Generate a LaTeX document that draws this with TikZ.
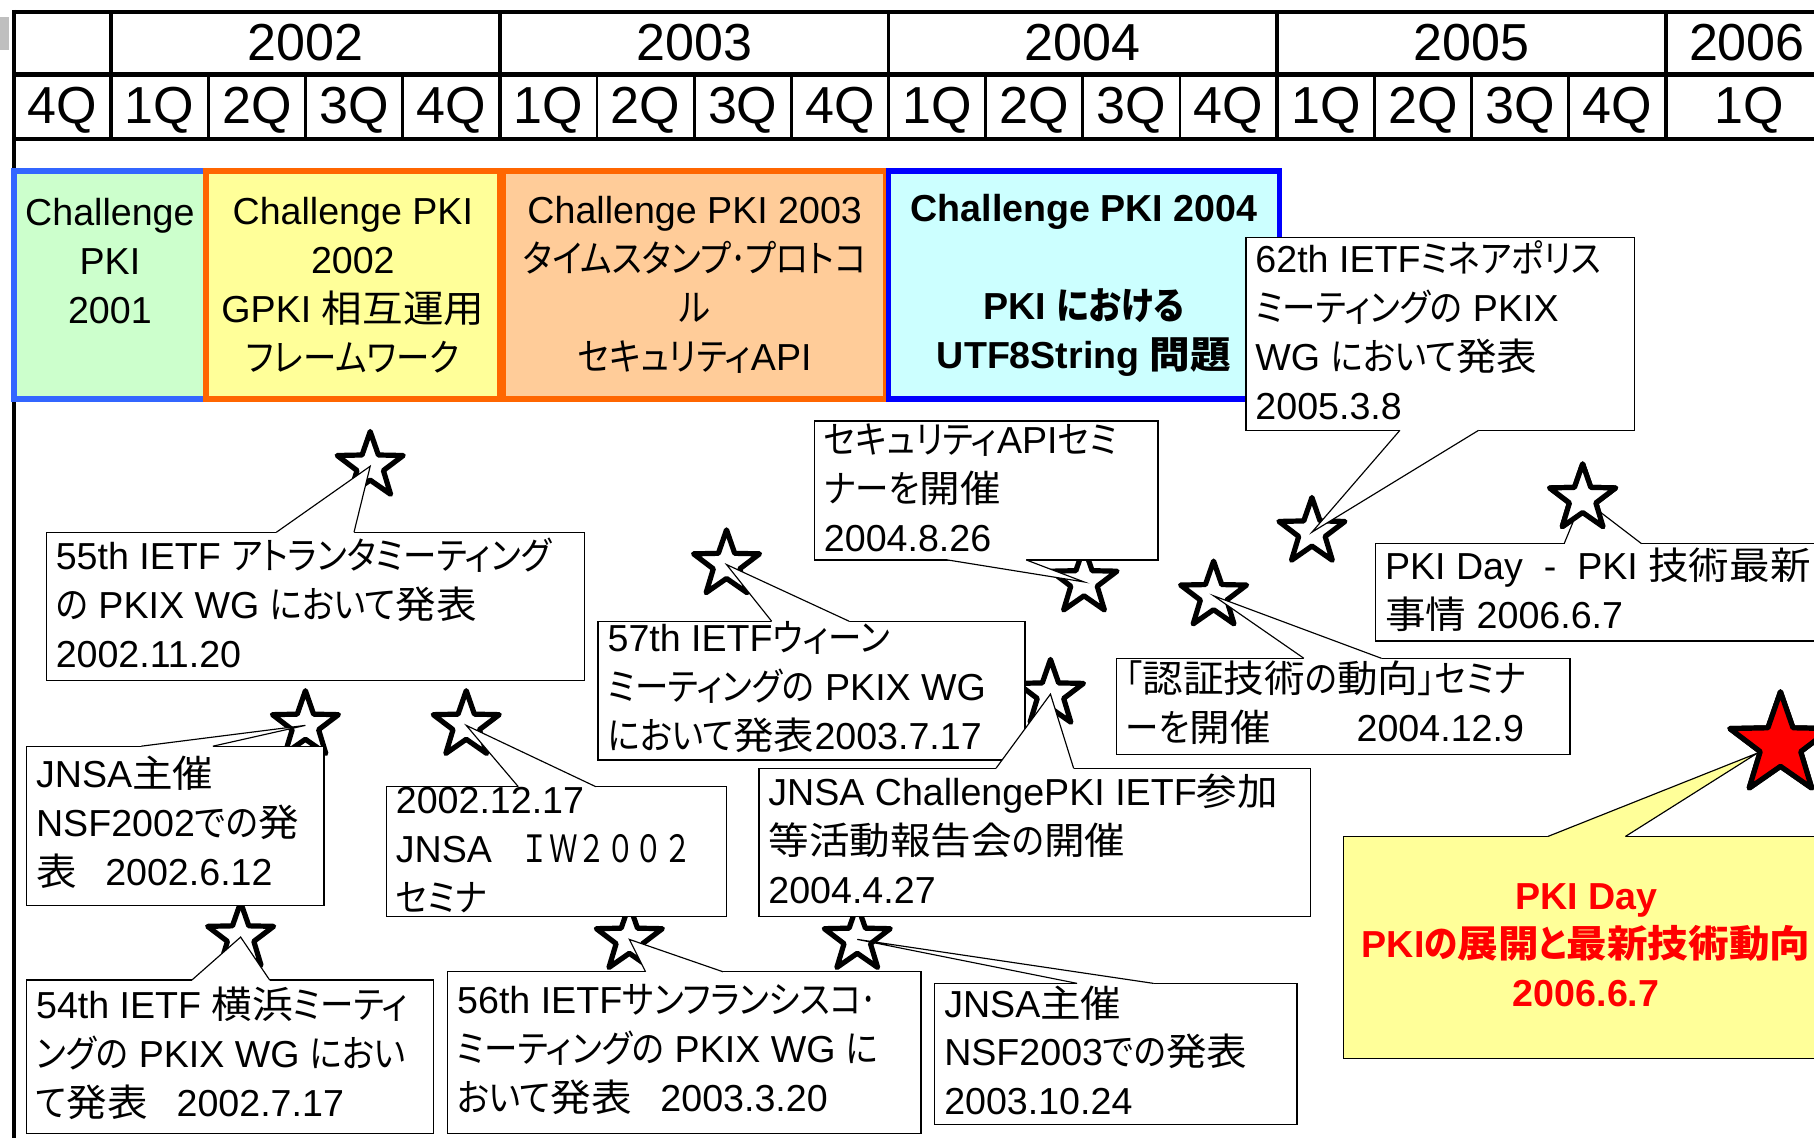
\documentclass[tikz,border=0pt]{standalone}
\usepackage{fontspec}
\setmainfont{Liberation Sans}
\newfontfamily\kanaf{Noto Sans CJK JP}[RawFeature=+palt, FakeStretch=0.89]
\newfontfamily\hanf{Noto Sans CJK JP}[RawFeature=+palt, FakeStretch=1.08]
\newfontfamily\fwf{Noto Sans CJK JP}[FakeStretch=0.76]
\usetikzlibrary{shapes.geometric,calc}
% automatic switch between Latin, kana, kanji and full-width fonts
\XeTeXinterchartokenstate=1
\newXeTeXintercharclass\KANcls
\newXeTeXintercharclass\HANcls
\newXeTeXintercharclass\FWcls
\newcount\cjkcnt
\def\setcjkrange#1#2#3{\cjkcnt=#1\relax
  \loop\XeTeXcharclass\cjkcnt=#3\relax
  \advance\cjkcnt by 1\relax\ifnum\cjkcnt<#2\relax\repeat}
\setcjkrange{"3001}{"3100}{\KANcls}
\setcjkrange{"3000}{"3001}{\FWcls}
\setcjkrange{"FF00}{"FFF0}{\FWcls}
\setcjkrange{"4E00}{"A000}{\HANcls}
\def\settrans#1#2{% #1 target class, #2 font command
  \XeTeXinterchartoks 0 #1 = {#2}%
  \XeTeXinterchartoks 4095 #1 = {#2}%
  \ifnum#1=\KANcls\else\XeTeXinterchartoks \KANcls #1 = {#2}\fi
  \ifnum#1=\HANcls\else\XeTeXinterchartoks \HANcls #1 = {#2}\fi
  \ifnum#1=\FWcls\else\XeTeXinterchartoks \FWcls #1 = {#2}\fi
  \XeTeXinterchartoks #1 0 = {\rmfamily}%
  \XeTeXinterchartoks #1 4095 = {\rmfamily}}
\settrans\KANcls\kanaf
\settrans\HANcls\hanf
\settrans\FWcls\fwf

\definecolor{cAb}{HTML}{3366FF}
\definecolor{cAf}{HTML}{CCFFCC}
\definecolor{corg}{HTML}{FF6600}
\definecolor{cBf}{HTML}{FFFF99}
\definecolor{cCf}{HTML}{FFCC99}
\definecolor{cDb}{HTML}{0000FF}
\definecolor{cDf}{HTML}{CCFFFF}
\definecolor{pkiy}{HTML}{FFFF99}
\definecolor{pkired}{HTML}{FF0000}

\tikzset{
  hdr/.style={font=\fontsize{45}{50}\selectfont, anchor=base, inner sep=0},
  chbox/.style={line width=5, anchor=north west, inner sep=0, outer sep=0,
    align=center, font=\fontsize{32.5}{42.3}\selectfont},
  cbox/.style={draw=black, line width=1.1, fill=white, inner sep=0, outer sep=0,
    anchor=north west},
  ctext/.style={font=\fontsize{32.5}{42.3}\selectfont, align=left, inner sep=0,
    anchor=west},
  evstar/.style={star, star points=5, star point ratio=2.5, minimum size=60,
    inner sep=0, draw=black, line width=4.5, fill=white, line join=round},
  ptrline/.style={line width=1, draw=black},
}
\newcommand\ptrN[5][white]{%
  \fill[#1] ([xshift=#3,yshift=-1.6]#2.north west) -- ([xshift=#3]#2.north west)
    -- (#5) -- ([xshift=#4]#2.north west) -- ([xshift=#4,yshift=-1.6]#2.north west) -- cycle;
  \draw[ptrline] ([xshift=#3]#2.north west) -- (#5) -- ([xshift=#4]#2.north west);}
\newcommand\ptrS[5][white]{%
  \fill[#1] ([xshift=#3,yshift=1.6]#2.south west) -- ([xshift=#3]#2.south west)
    -- (#5) -- ([xshift=#4]#2.south west) -- ([xshift=#4,yshift=1.6]#2.south west) -- cycle;
  \draw[ptrline] ([xshift=#3]#2.south west) -- (#5) -- ([xshift=#4]#2.south west);}

\begin{document}
\begin{tikzpicture}[x=1pt,y=-1pt]
\useasboundingbox (0,0) rectangle (1568,984);
\clip (0,0) rectangle (1568,984);
\fill[white] (0,0) rectangle (1568,984);
\fill[black!25] (0,15) rectangle (8,43);

% ---------- header table ----------
\draw[line width=3.5] (12,10) -- (1570,10);
\draw[line width=4] (12,64.5) -- (1570,64.5);
\draw[line width=3.5] (12,120.5) -- (1570,120.5);
\draw[line width=3] (12,8.5) -- (12,984);
\foreach \x in {96,432,768,1104,1440} \draw[line width=3] (\x,10) -- (\x,120.5);
\foreach \x in {180,264,348,516,600,684,852,936,1020,1188,1272,1356}
  \draw[line width=2.5] (\x,64.5) -- (\x,120.5);
\node[hdr] (y2002) at (264,52) {2002};
\node[hdr] (y2003) at (600,52) {2003};
\node[hdr] (y2004) at (936,52) {2004};
\node[hdr] (y2005) at (1272,52) {2005};
\node[hdr] (y2006) at (1510,52) {2006};
\foreach \x/\q [count=\i] in {54/4,138/1,222/2,306/3,390/4,474/1,558/2,642/3,726/4,
  810/1,894/2,978/3,1062/4,1146/1,1230/2,1314/3,1398/4,1512/1}
  \node[hdr] (q\i) at (\x,107) {\q Q};

% ---------- Challenge PKI boxes ----------
\node[chbox, draw=cAb, fill=cAf, minimum width=166, minimum height=197] (ch2001) at (12,148)
  {Challenge\\PKI\\2001\\\mbox{}};
\node[chbox, draw=corg, fill=cBf, minimum width=254, minimum height=197] (ch2002) at (178,148)
  {Challenge PKI\\2002\\GPKI 相互運用\\フレームワーク};
\node[chbox, draw=corg, fill=cCf, minimum width=331, minimum height=197] (ch2003) at (435,148)
  {Challenge PKI 2003\\タイムスタンプ･プロトコ\\ル\\セキュリティAPI};
\node[chbox, draw=cDb, fill=cDf, minimum width=338, minimum height=197,
  font=\fontsize{32.5}{42.3}\selectfont\bfseries] (ch2004) at (768,148)
  {Challenge PKI 2004\\\mbox{}\\PKI における\\UTF8String 問題};

% ---------- stars ----------
\node[evstar] (s1) at (320,403) {};
\node[evstar] (s2) at (264,627) {};
\node[evstar] (s3) at (403,627) {};
\node[evstar] (s4) at (208,810) {};
\node[evstar] (s5) at (544,812) {};
\node[evstar] (s6) at (741,812) {};
\node[evstar] (s7) at (628,488) {};
\node[evstar] (s8) at (937,503) {};
\node[evstar] (s9) at (908,600) {};
\node[evstar] (s10) at (1049,515) {};
\node[evstar] (s11) at (1134,460) {};

% ---------- callouts ----------
\node[cbox, minimum width=465, minimum height=128] (c1) at (40,460) {};
\ptrN{c1}{199}{266}{s1.center}
\node[ctext] (c1t) at ([xshift=8,yshift=3]c1.west) {55th IETF アトランタミーティング\\の PKIX WG において発表\\2002.11.20};

\node[cbox, minimum width=257, minimum height=138] (c2) at (23,645) {};
\ptrN{c2}{99}{161}{s2.center}
\node[ctext] (c2t) at ([xshift=8,yshift=3]c2.west) {JNSA主催\\NSF2002での発\\表　2002.6.12};

\node[cbox, minimum width=294, minimum height=112] (c3) at (334,680) {};
\ptrN{c3}{114}{181}{s3.center}
\node[ctext] (c3t) at ([xshift=8,yshift=1]c3.west) {2002.12.17\\JNSA　ＩＷ２００２\\セミナ};

\node[cbox, minimum width=352, minimum height=133] (c4) at (23,847) {};
\ptrN{c4}{143}{210}{s4.center}
\node[ctext] (c4t) at ([xshift=8,yshift=3]c4.west) {54th IETF 横浜ミーティ\\ングの PKIX WG におい\\て発表　2002.7.17};

\node[cbox, minimum width=409, minimum height=140] (c5) at (387,840) {};
\ptrN{c5}{171}{238}{s5.center}
\node[ctext] (c5t) at ([xshift=8,yshift=3]c5.west) {56th IETFサンフランシスコ･\\ミーティングの PKIX WG に\\おいて発表　2003.3.20};

\node[cbox, minimum width=313, minimum height=122] (c6) at (808,850) {};
\ptrN{c6}{123}{189}{s6.center}
\node[ctext] (c6t) at ([xshift=8,yshift=3]c6.west) {JNSA主催\\NSF2003での発表\\2003.10.24};

\node[cbox, minimum width=369, minimum height=120] (c7) at (517,537) {};
\ptrN{c7}{150}{217}{s7.center}
\node[ctext] (c7t) at ([xshift=8,yshift=3]c7.west) {57th IETFウィーン\\ミーティングの PKIX WG\\において発表2003.7.17};

\node[cbox, minimum width=297, minimum height=120] (c8) at (704,364) {};
\ptrS{c8}{115}{183}{s8.center}
\node[ctext] (c8t) at ([xshift=8,yshift=2]c8.west) {セキュリティAPIセミ\\ナーを開催\\2004.8.26};

\node[cbox, minimum width=477, minimum height=128] (c9) at (656,664) {};
\ptrN{c9}{205}{272}{s9.center}
\node[ctext] (c9t) at ([xshift=8,yshift=3]c9.west) {JNSA ChallengePKI IETF参加\\等活動報告会の開催\\2004.4.27};

\node[cbox, minimum width=392, minimum height=83] (c10) at (965,569) {};
\ptrN{c10}{162}{229}{s10.center}
\node[ctext] (c10t) at ([xshift=8,yshift=3]c10.west) {「認証技術の動向」セミナ\\ーを開催　　　2004.12.9};

\node[cbox, minimum width=336, minimum height=167] (c11) at (1077,205) {};
\ptrS{c11}{133}{201}{s11.center}
\node[ctext] (c11t) at ([xshift=8,yshift=3]c11.west) {62th IETFミネアポリス\\ミーティングの PKIX\\WG において発表\\2005.3.8};

\node[cbox, minimum width=400, minimum height=84] (c12) at (1189,470) {};
\node[evstar] (s12) at (1368,431) {};
\ptrN{c12}{163}{230}{s12.center}
\node[ctext] (c12t) at ([xshift=8,yshift=2]c12.west) {PKI Day~~-~~PKI 技術最新\\事情 2006.6.7};
\node[evstar] at (s12.center) {};

\node[cbox, fill=pkiy, minimum width=420, minimum height=192] (c13) at (1161,723) {};
\node[evstar, minimum size=92, fill=pkired] (s13) at (1539,644) {};
\ptrN[pkiy]{c13}{177}{244}{$(s13.center)+(-20,7)$}
\node[ctext, anchor=center, align=center, text=pkired,
  font=\fontsize{32.5}{42.3}\selectfont\bfseries] (c13t) at ([yshift=2]c13.center)
  {PKI Day\\PKIの展開と最新技術動向\\2006.6.7};
\node[evstar, minimum size=92, fill=pkired] at (s13.center) {};
\end{tikzpicture}
\end{document}
